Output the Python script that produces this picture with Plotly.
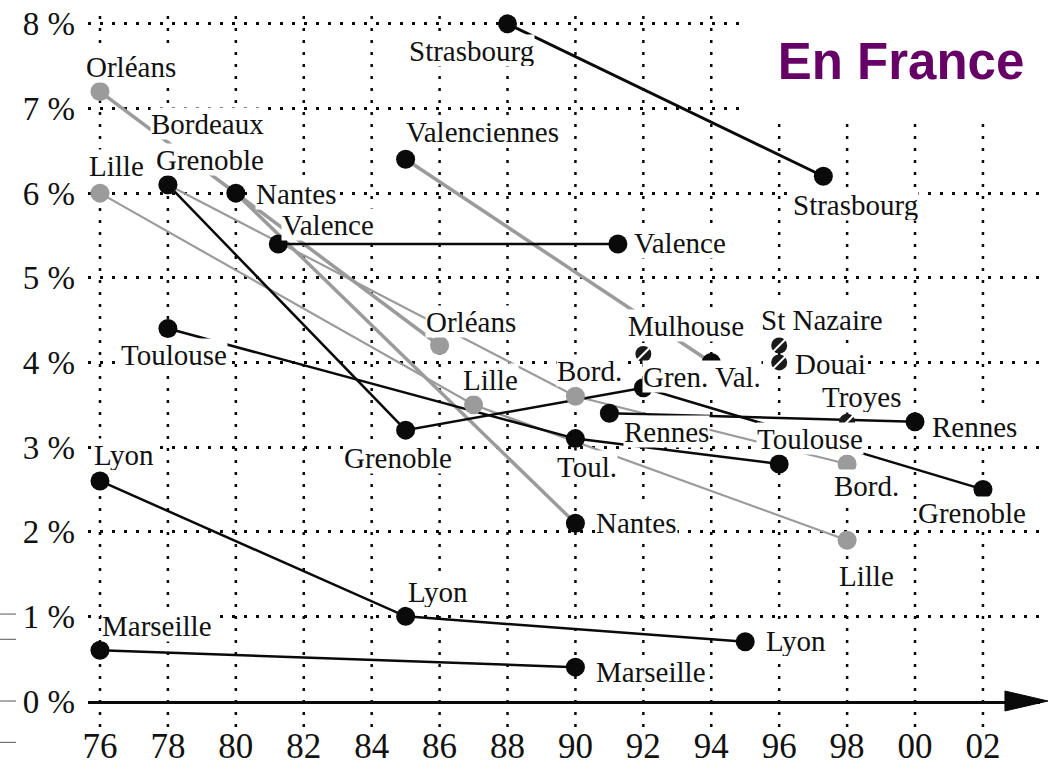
import plotly.graph_objects as go

# ---------------- data ----------------
strasbourg_years = [88, 97.3]
strasbourg_vals = [8.0, 6.2]
orleans_years = [76, 86]
orleans_vals = [7.2, 4.2]
lille_years = [76, 87, 98]
lille_vals = [6.0, 3.5, 1.9]
bordeaux_years = [78, 90, 98]
bordeaux_vals = [6.1, 3.6, 2.8]
nantes_years = [80, 90]
nantes_vals = [6.0, 2.1]
valenciennes_years = [85, 94]
valenciennes_vals = [6.4, 4.0]
grenoble_years = [78, 85, 92, 102]
grenoble_vals = [6.1, 3.2, 3.7, 2.5]
toulouse_years = [78, 90, 96]
toulouse_vals = [4.4, 3.1, 2.8]
valence_years = [81.25, 91.25]
valence_vals = [5.4, 5.4]
rennes_years = [91, 100]
rennes_vals = [3.4, 3.3]
lyon_years = [76, 85, 95]
lyon_vals = [2.6, 1.0, 0.7]
marseille_years = [76, 90]
marseille_vals = [0.6, 0.4]

single_cities = ["Mulhouse", "St Nazaire", "Douai", "Troyes"]
single_years = [92, 96, 96, 98]
single_vals = [4.1, 4.2, 4.0, 3.3]

year_ticks = [76, 78, 80, 82, 84, 86, 88, 90, 92, 94, 96, 98, 100, 102]
year_tick_labels = ["76", "78", "80", "82", "84", "86", "88", "90", "92",
                    "94", "96", "98", "00", "02"]
pct_ticks = [0, 1, 2, 3, 4, 5, 6, 7, 8]
pct_tick_labels = ["0 %", "1 %", "2 %", "3 %", "4 %", "5 %", "6 %", "7 %", "8 %"]

title_text = "En France"

# ---------------- styles ----------------
BLACK = "#0a0a0a"
GRAY = "#9b9b9b"
SERIF = "Liberation Serif, Times New Roman, serif"
LABEL_SIZE = 29
LABEL_BOX_H = 31

series = {
    "orleans": (orleans_years, orleans_vals, GRAY, 3.5, GRAY),
    "lille": (lille_years, lille_vals, GRAY, 2.2, GRAY),
    "bordeaux": (bordeaux_years, bordeaux_vals, GRAY, 2.2, GRAY),
    "nantes": (nantes_years, nantes_vals, GRAY, 3.5, BLACK),
    "valenciennes": (valenciennes_years, valenciennes_vals, GRAY, 3.5, BLACK),
    "strasbourg": (strasbourg_years, strasbourg_vals, BLACK, 2.8, BLACK),
    "grenoble": (grenoble_years, grenoble_vals, BLACK, 2.5, BLACK),
    "toulouse": (toulouse_years, toulouse_vals, BLACK, 2.5, BLACK),
    "valence": (valence_years, valence_vals, BLACK, 2.5, BLACK),
    "rennes": (rennes_years, rennes_vals, BLACK, 2.5, BLACK),
    "lyon": (lyon_years, lyon_vals, BLACK, 2.5, BLACK),
    "marseille": (marseille_years, marseille_vals, BLACK, 2.5, BLACK),
}

# label: (text, series key, point index, dx px, dy px (down positive))
labels = [
    ("Strasbourg", "strasbourg", 0, -36, 27),
    ("Strasbourg", "strasbourg", 1, 32, 28),
    ("Orléans", "orleans", 0, 31, -25),
    ("Bordeaux", "bordeaux", 0, 40, -61),
    ("Grenoble", "grenoble", 0, 42, -25),
    ("Lille", "lille", 0, 17, -28),
    ("Nantes", "nantes", 0, 61, 0),
    ("Valence", "valence", 0, 50, -19),
    ("Valenciennes", "valenciennes", 0, 77, -28),
    ("Valence", "valence", 1, 62, -1),
    ("Orléans", "orleans", 1, 31, -24),
    ("Toulouse", "toulouse", 0, 6, 26),
    ("Gren. Val.", "grenoble", 2, 59, -11),
    ("Lille", "lille", 1, 17, -25),
    ("Bord.", "bordeaux", 1, 14, -26),
    ("Rennes", "rennes", 0, 57, 18),
    ("Rennes", "rennes", 1, 59, 5),
    ("Toulouse", "toulouse", 2, 31, -26),
    ("Grenoble", "grenoble", 1, -8, 27),
    ("Toul.", "toulouse", 1, 12, 28),
    ("Bord.", "bordeaux", 2, 19, 21),
    ("Grenoble", "grenoble", 3, -11, 23),
    ("Lyon", "lyon", 0, 24, -26),
    ("Nantes", "nantes", 1, 61, -1),
    ("Lille", "lille", 2, 19, 35),
    ("Lyon", "lyon", 1, 32, -25),
    ("Lyon", "lyon", 2, 51, -1),
    ("Marseille", "marseille", 0, 57, -25),
    ("Marseille", "marseille", 1, 76, 4),
]
single_label_offsets = [(43, -28), (43, -26), (51, 1), (15, -25)]

fig = go.Figure()

# lines first
for key, (xs, ys, lc, lw, mc) in series.items():
    fig.add_trace(go.Scatter(x=xs, y=ys, mode="lines",
                             line=dict(color=lc, width=lw),
                             hoverinfo="skip", showlegend=False))
# markers on top
for key, (xs, ys, lc, lw, mc) in series.items():
    fig.add_trace(go.Scatter(x=xs, y=ys, mode="markers",
                             marker=dict(color=mc, size=19, line=dict(width=0)),
                             name=key, showlegend=False))
# hatched single points
fig.add_trace(go.Scatter(x=single_years, y=single_vals, mode="markers",
                         marker=dict(color="#1a1a1a", size=16, line=dict(width=0)),
                         text=single_cities, showlegend=False))
fig.add_trace(go.Scatter(x=single_years, y=single_vals, mode="markers",
                         marker=dict(symbol="line-ne", size=14,
                                     line=dict(color="white", width=2)),
                         hoverinfo="skip", showlegend=False))

annotations = []
for text, key, idx, dx, dy in labels:
    xs, ys = series[key][0], series[key][1]
    annotations.append(dict(x=xs[idx], y=ys[idx], xref="x", yref="y",
                            text=text, showarrow=False, xshift=dx, yshift=-dy,
                            font=dict(family=SERIF, size=LABEL_SIZE, color="#111"),
                            bgcolor="white", borderpad=0, height=LABEL_BOX_H,
                            xanchor="center", yanchor="middle"))
for name, x, y, (dx, dy) in zip(single_cities, single_years, single_vals,
                                 single_label_offsets):
    annotations.append(dict(x=x, y=y, xref="x", yref="y", text=name,
                            showarrow=False, xshift=dx, yshift=-dy,
                            font=dict(family=SERIF, size=LABEL_SIZE, color="#111"),
                            bgcolor="white", borderpad=0, height=LABEL_BOX_H,
                            xanchor="center", yanchor="middle"))
# title box (white background hides the grid there)
annotations.append(dict(x=0.854, y=0.9136, xref="paper", yref="paper",
                        text="<b>" + title_text + "</b>", showarrow=False,
                        width=312, height=122, bgcolor="white",
                        font=dict(family="Liberation Sans, Arial, sans-serif",
                                  size=51, color="#660066"),
                        xanchor="center", yanchor="middle"))

shapes = []
# vertical dotted grid lines (extend slightly below the axis)
for yr in year_ticks:
    shapes.append(dict(type="line", xref="x", yref="paper", x0=yr, x1=yr,
                       y0=-0.037, y1=0.979, layer="below",
                       line=dict(color=BLACK, width=2.5, dash="3px,9px")))
# arrow head on the x axis
shapes.append(dict(type="path", xref="paper", yref="paper",
                   path="M 0.9632 0.0142 L 1.0084 0 L 0.9632 -0.0142 Z",
                   fillcolor=BLACK, line=dict(color=BLACK, width=1)))
# scan artefacts at the left edge
for yy in [0.124, 0.088, 0.0, -0.059]:
    shapes.append(dict(type="line", xref="paper", yref="paper",
                       x0=-0.0924, x1=-0.0756, y0=yy, y1=yy,
                       line=dict(color="#555", width=1)))

fig.update_layout(
    width=1057, height=766, autosize=False,
    margin=dict(l=88, r=17, t=0, b=60, pad=0),
    paper_bgcolor="white", plot_bgcolor="rgba(0,0,0,0)",
    showlegend=False,
    annotations=annotations, shapes=shapes,
    xaxis=dict(range=[75.647, 103.68], tickmode="array", tickvals=year_ticks,
               ticktext=year_tick_labels, showgrid=False, zeroline=False,
               showline=True, linecolor=BLACK, linewidth=3, ticks="",
               ticklabelstandoff=12,
               tickfont=dict(family=SERIF, size=35, color="#111")),
    yaxis=dict(range=[0, 8.282], tickmode="array", tickvals=pct_ticks,
               ticktext=pct_tick_labels, showgrid=True, gridcolor=BLACK,
               gridwidth=2.5, griddash="3px,9px", zeroline=False,
               showline=False, ticks="", ticklabelstandoff=12,
               tickfont=dict(family=SERIF, size=33, color="#111")),
)

fig.write_html("out.html",
               config={"displayModeBar": False},
               post_script="document.body.style.margin='0';"
                           "document.body.style.overflow='hidden';")
